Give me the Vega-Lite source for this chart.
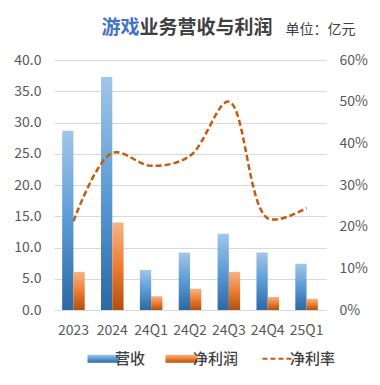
{
  "$schema": "https://vega.github.io/schema/vega-lite/v6.json",
  "autosize": {"type": "none"},
  "width": 272,
  "height": 250,
  "padding": {"left": 54, "top": 60, "right": 54, "bottom": 75},
  "background": "#ffffff",
  "config": {
    "font": "Noto Sans CJK SC",
    "view": {"stroke": null},
    "axis": {"labelFont": "Noto Sans CJK SC", "labelColor": "#595959", "labelFontSize": 14, "ticks": false, "gridColor": "#D9D9D9", "domain": false}
  },
  "datasets": {
    "bars": [
      {"period": "2023", "series": "营收", "value": 28.7},
      {"period": "2023", "series": "净利润", "value": 6.1},
      {"period": "2024", "series": "营收", "value": 37.3},
      {"period": "2024", "series": "净利润", "value": 14.0},
      {"period": "24Q1", "series": "营收", "value": 6.4},
      {"period": "24Q1", "series": "净利润", "value": 2.2},
      {"period": "24Q2", "series": "营收", "value": 9.2},
      {"period": "24Q2", "series": "净利润", "value": 3.4},
      {"period": "24Q3", "series": "营收", "value": 12.2},
      {"period": "24Q3", "series": "净利润", "value": 6.1},
      {"period": "24Q4", "series": "营收", "value": 9.2},
      {"period": "24Q4", "series": "净利润", "value": 2.1},
      {"period": "25Q1", "series": "营收", "value": 7.4},
      {"period": "25Q1", "series": "净利润", "value": 1.8}
    ],
    "rate": [
      {"period": "2023", "series": "净利率", "rate": 0.213},
      {"period": "2024", "series": "净利率", "rate": 0.377},
      {"period": "24Q1", "series": "净利率", "rate": 0.346},
      {"period": "24Q2", "series": "净利率", "rate": 0.37},
      {"period": "24Q3", "series": "净利率", "rate": 0.50},
      {"period": "24Q4", "series": "净利率", "rate": 0.22},
      {"period": "25Q1", "series": "净利率", "rate": 0.245}
    ]
  },
  "encoding": {
    "x": {
      "field": "period", "type": "nominal", "sort": null,
      "scale": {"paddingInner": 0.42, "paddingOuter": 0.21},
      "axis": {
        "title": "业务营收与利润", "labelAngle": 0, "labelPadding": 13,
        "domain": true, "domainColor": "#D9D9D9",
        "titleFontSize": 19, "titleFontWeight": "bold", "titleColor": "#404040",
        "titleAngle": 0, "titleAlign": "left", "titleBaseline": "alphabetic",
        "titleX": 85, "titleY": -277
      }
    }
  },
  "layer": [
    {
      "data": {"name": "bars"},
      "mark": {"type": "bar"},
      "encoding": {
        "xOffset": {"field": "series", "type": "nominal", "sort": ["营收", "净利润"], "scale": {"paddingInner": 0, "paddingOuter": 0}},
        "y": {
          "field": "value", "type": "quantitative",
          "scale": {"domain": [0, 40]},
          "axis": {
            "values": [0, 5, 10, 15, 20, 25, 30, 35, 40], "format": ".1f", "labelPadding": 13,
            "title": "游戏", "titleFontSize": 19, "titleFontWeight": "bold", "titleColor": "#4472C4",
            "titleAngle": 0, "titleAlign": "left", "titleBaseline": "alphabetic",
            "titleX": 47, "titleY": -27
          }
        },
        "fill": {
          "condition": {
            "test": "datum.series === '营收'",
            "value": {"gradient": "linear", "x1": 0, "y1": 0, "x2": 0, "y2": 1, "stops": [{"offset": 0, "color": "#A2C6E8"}, {"offset": 0.5, "color": "#5B9BD5"}, {"offset": 1, "color": "#2C68A4"}]}
          },
          "value": {"gradient": "linear", "x1": 0, "y1": 0, "x2": 0, "y2": 1, "stops": [{"offset": 0, "color": "#F5B487"}, {"offset": 0.5, "color": "#ED7D31"}, {"offset": 1, "color": "#B0500F"}]}
        }
      }
    },
    {
      "data": {"name": "rate"},
      "mark": {"type": "line", "interpolate": "catmull-rom", "strokeWidth": 2.5, "strokeDash": [6, 3]},
      "encoding": {
        "y": {
          "field": "rate", "type": "quantitative",
          "scale": {"domain": [0, 0.6]},
          "axis": {
            "values": [0, 0.1, 0.2, 0.3, 0.4, 0.5, 0.6], "format": ".0%", "grid": false, "labelPadding": 13,
            "title": "单位：亿元", "titleFontSize": 14, "titleFontWeight": "normal", "titleColor": "#404040",
            "titleAngle": 0, "titleAlign": "left", "titleBaseline": "alphabetic",
            "titleX": -41, "titleY": -27
          }
        },
        "color": {
          "field": "series", "type": "nominal",
          "scale": {"domain": ["营收", "净利润", "净利率"], "range": ["#5B9BD5", "#ED7D31", "#C55A11"]},
          "legend": {
            "title": null, "orient": "none", "direction": "horizontal",
            "legendX": 42, "legendY": 291,
            "labelFontSize": 15, "labelFontWeight": 500, "labelColor": "#404040", "labelFont": "Noto Sans CJK SC",
            "symbolSize": 1024, "columnPadding": 19, "labelOffset": 4,
            "encode": {
              "symbols": {
                "update": {
                  "shape": {"signal": "datum.value === '净利率' ? 'stroke' : 'M-1,-0.25H1V0.25H-1Z'"},
                  "fill": {"signal": "datum.value === '营收' ? {gradient: 'linear', x1: 0, y1: 0, x2: 0, y2: 1, stops: [{offset: 0, color: '#A2C6E8'}, {offset: 0.5, color: '#5B9BD5'}, {offset: 1, color: '#2C68A4'}]} : datum.value === '净利润' ? {gradient: 'linear', x1: 0, y1: 0, x2: 0, y2: 1, stops: [{offset: 0, color: '#F5B487'}, {offset: 0.5, color: '#ED7D31'}, {offset: 1, color: '#B0500F'}]} : 'transparent'"},
                  "stroke": {"signal": "datum.value === '净利率' ? '#C55A11' : 'transparent'"},
                  "strokeDash": {"signal": "datum.value === '净利率' ? [5, 3] : [1, 0]"},
                  "strokeWidth": {"signal": "datum.value === '净利率' ? 2 : 0"},
                  "opacity": {"value": 1}
                }
              }
            }
          }
        }
      }
    }
  ],
  "resolve": {"scale": {"y": "independent"}}
}
